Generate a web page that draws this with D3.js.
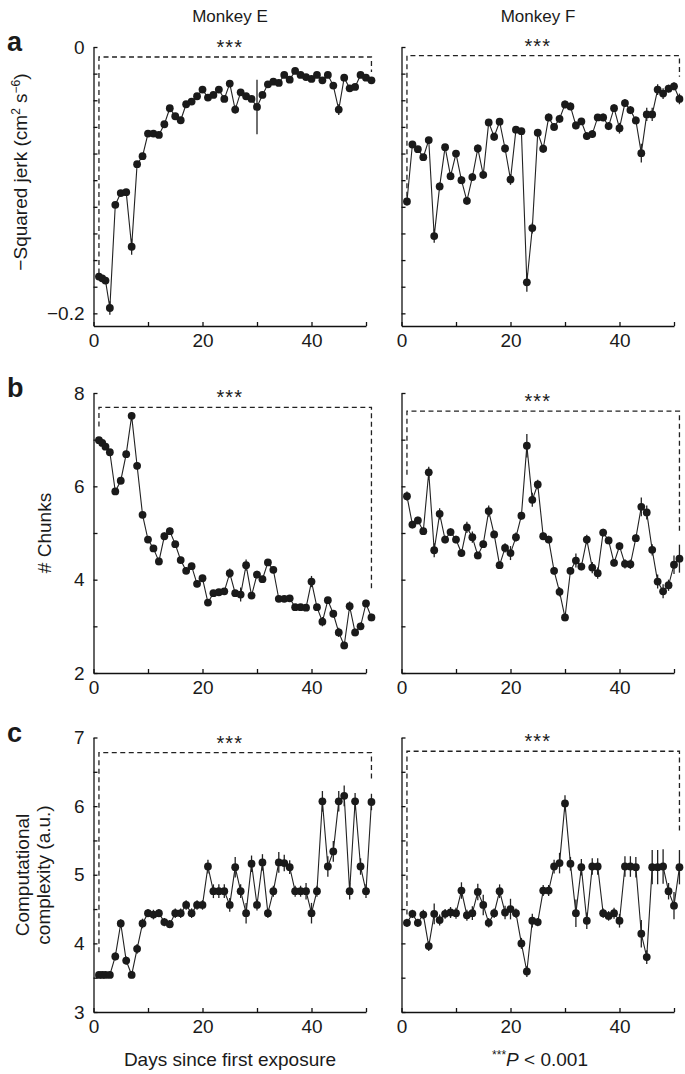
<!DOCTYPE html>
<html><head><meta charset="utf-8">
<script src="https://cdn.jsdelivr.net/npm/d3@7"></script>
<style>
body{margin:0;background:#fff}
svg{display:block}
text{font-family:"Liberation Sans",Arial,Helvetica,sans-serif;fill:#1a1a1a}
</style>
</head><body>
<svg id="chart" width="685" height="1074"></svg>
<script>
// ---------- DATA ----------
const daysE = [1,1.6,2.2,3,4,5,6,7,8,9,10,11,12,13,14,15,16,17,18,19,20,21,22,23,24,25,26,27,28,29,30,31,32,33,34,35,36,37,38,39,40,41,42,43,44,45,46,47,48,49,50,51];
const daysF = [1,2,3,4,5,6,7,8,9,10,11,12,13,14,15,16,17,18,19,20,21,22,23,24,25,26,27,28,29,30,31,32,33,34,35,36,37,38,39,40,41,42,43,44,45,46,47,48,49,50,51];

const jerkE = [-0.1724,-0.1737,-0.1754,-0.196,-0.1185,-0.1097,-0.109,-0.150,-0.088,-0.082,-0.065,-0.065,-0.066,-0.058,-0.046,-0.052,-0.055,-0.043,-0.041,-0.037,-0.032,-0.038,-0.036,-0.032,-0.039,-0.0275,-0.047,-0.034,-0.037,-0.039,-0.045,-0.036,-0.028,-0.026,-0.027,-0.021,-0.0245,-0.018,-0.021,-0.0226,-0.024,-0.021,-0.025,-0.021,-0.029,-0.047,-0.023,-0.031,-0.030,-0.021,-0.023,-0.025];
const jerkErrE = [0.002,0.002,0.002,0.005,0.002,0.002,0.002,0.006,0.002,0.002,0.001,0.001,0.002,0.002,0.002,0.002,0.002,0.002,0.001,0.001,0.001,0.001,0.001,0.002,0.002,0.002,0.003,0.002,0.002,0.002,0.0205,0.002,0.001,0.001,0.001,0.001,0.001,0.001,0.001,0.001,0.001,0.001,0.001,0.001,0.002,0.004,0.002,0.002,0.002,0.001,0.001,0.002];
const jerkF = [-0.116,-0.0732,-0.0767,-0.0827,-0.0699,-0.142,-0.1047,-0.0752,-0.097,-0.080,-0.100,-0.1155,-0.0977,-0.0762,-0.096,-0.0566,-0.0674,-0.0561,-0.0762,-0.0995,-0.0621,-0.0632,-0.1767,-0.136,-0.0644,-0.0764,-0.0529,-0.060,-0.0539,-0.0431,-0.0446,-0.0589,-0.0559,-0.0669,-0.0654,-0.0529,-0.0529,-0.0594,-0.0459,-0.061,-0.0421,-0.0474,-0.0551,-0.0797,-0.0506,-0.0506,-0.032,-0.035,-0.0313,-0.0295,-0.039];
const jerkErrF = [0.003,0.002,0.002,0.002,0.002,0.005,0.003,0.002,0.003,0.002,0.003,0.003,0.003,0.003,0.003,0.002,0.003,0.002,0.003,0.004,0.002,0.002,0.007,0.004,0.002,0.003,0.003,0.003,0.003,0.003,0.003,0.003,0.002,0.003,0.003,0.002,0.003,0.003,0.003,0.004,0.003,0.003,0.003,0.007,0.005,0.005,0.004,0.004,0.003,0.003,0.004];

const chunksE = [6.99,6.93,6.85,6.73,5.89,6.12,6.69,7.51,6.44,5.39,4.86,4.67,4.39,4.93,5.04,4.76,4.42,4.19,4.29,3.91,4.03,3.51,3.71,3.73,3.75,4.14,3.71,3.68,4.31,3.66,4.11,4.01,4.37,4.21,3.59,3.59,3.60,3.41,3.41,3.40,3.96,3.41,3.10,3.56,3.27,2.87,2.59,3.43,2.87,3.00,3.49,3.19];
const chunksErrE = [0.06,0.06,0.06,0.06,0.07,0.07,0.07,0.08,0.08,0.07,0.07,0.07,0.08,0.08,0.08,0.07,0.07,0.07,0.07,0.07,0.07,0.06,0.06,0.06,0.06,0.1,0.07,0.15,0.12,0.07,0.08,0.07,0.07,0.07,0.06,0.06,0.06,0.06,0.06,0.06,0.12,0.07,0.1,0.07,0.08,0.1,0.08,0.1,0.08,0.08,0.08,0.08];
const chunksF = [5.79,5.18,5.27,5.04,6.30,4.63,5.41,4.86,5.02,4.86,4.57,5.12,4.91,4.52,4.76,5.47,4.97,4.31,4.68,4.57,4.91,5.37,6.87,5.71,6.04,4.93,4.86,4.19,3.74,3.19,4.19,4.41,4.28,4.86,4.26,4.14,5.01,4.84,4.36,4.72,4.34,4.33,4.89,5.56,5.44,4.64,3.96,3.75,3.88,4.32,4.45];
const chunksErrF = [0.1,0.08,0.08,0.08,0.12,0.15,0.12,0.08,0.08,0.08,0.08,0.12,0.12,0.08,0.08,0.12,0.08,0.08,0.1,0.15,0.1,0.08,0.25,0.15,0.1,0.08,0.08,0.08,0.1,0.08,0.08,0.15,0.08,0.1,0.12,0.12,0.08,0.08,0.08,0.08,0.1,0.1,0.08,0.2,0.15,0.12,0.15,0.15,0.12,0.2,0.3];

const complexE = [3.54,3.54,3.54,3.54,3.81,4.29,3.75,3.54,3.92,4.29,4.44,4.42,4.44,4.31,4.28,4.44,4.44,4.56,4.44,4.56,4.56,5.12,4.76,4.76,4.76,4.56,5.11,4.76,4.44,5.16,4.56,5.18,4.44,4.76,5.18,5.17,5.11,4.76,4.76,4.76,4.44,4.76,6.07,5.12,5.34,6.07,6.15,4.76,6.07,5.12,4.76,6.06];
const complexErrE = [0.04,0.04,0.04,0.04,0.06,0.06,0.06,0.05,0.07,0.07,0.06,0.07,0.06,0.06,0.06,0.07,0.07,0.07,0.07,0.07,0.07,0.1,0.1,0.1,0.1,0.1,0.15,0.1,0.15,0.12,0.08,0.12,0.07,0.08,0.15,0.12,0.1,0.08,0.08,0.12,0.15,0.08,0.15,0.15,0.15,0.15,0.15,0.12,0.12,0.12,0.1,0.12];
const complexF = [4.30,4.43,4.30,4.42,3.96,4.43,4.34,4.43,4.45,4.44,4.77,4.41,4.44,4.75,4.56,4.30,4.44,4.76,4.45,4.50,4.44,4.00,3.59,4.33,4.31,4.77,4.77,5.12,5.17,6.04,5.16,4.44,5.11,4.33,5.12,5.12,4.44,4.40,4.44,4.33,5.12,5.12,5.11,4.14,3.80,5.11,5.11,5.12,4.76,4.55,5.11];
const complexErrF = [0.06,0.06,0.06,0.07,0.07,0.15,0.08,0.07,0.08,0.08,0.12,0.08,0.1,0.12,0.15,0.07,0.07,0.1,0.1,0.15,0.07,0.08,0.08,0.1,0.06,0.08,0.08,0.1,0.15,0.12,0.1,0.2,0.12,0.12,0.12,0.12,0.07,0.07,0.08,0.1,0.15,0.15,0.15,0.2,0.1,0.25,0.25,0.25,0.12,0.2,0.25];

// tick values and labels
const dayTicks = [0,10,20,30,40,50];
const dayLabels = [0,20,40];
const jerkTicks = [-0.2,-0.18,-0.16,-0.14,-0.12,-0.1,-0.08,-0.06,-0.04,-0.02,0];
const jerkLabels = [0,-0.2];
const chunkTicks = [2,3,4,5,6,7,8];
const chunkLabels = [2,4,6,8];
const complexTicks = [3,3.5,4,4.5,5,5.5,6,6.5,7];
const complexLabels = [3,4,5,6,7];

// significance brackets: [top value, left end value, right end value]
const bracketJerkE = [-0.0075,-0.170,-0.0188];
const bracketJerkF = [-0.0065,-0.1124,-0.0223];
const bracketChunksE = [7.69,7.28,3.75];
const bracketChunksF = [7.61,6.25,5.04];
const bracketComplexE = [6.78,3.87,6.38];
const bracketComplexF = [6.80,4.42,5.60];
const bracketDays = [1,51];

// ---------- LAYOUT ----------
const svg = d3.select("#chart");
const cols = [{x0:93.5, x1:366}, {x0:401.5, x1:674}];
const rows = [
  {letter:"a", top:47, bottom:326, domain:[-0.2095,0], ticks:jerkTicks, labels:jerkLabels,
   E:[jerkE,jerkErrE,bracketJerkE], F:[jerkF,jerkErrF,bracketJerkF]},
  {letter:"b", top:393, bottom:673, domain:[2,8], ticks:chunkTicks, labels:chunkLabels,
   E:[chunksE,chunksErrE,bracketChunksE], F:[chunksF,chunksErrF,bracketChunksF]},
  {letter:"c", top:737.5, bottom:1012, domain:[3,7], ticks:complexTicks, labels:complexLabels,
   E:[complexE,complexErrE,bracketComplexE], F:[complexF,complexErrF,bracketComplexF]}
];
const fmt = d => d < 0 ? "\u2212" + Math.abs(d) : String(d);
const ink = "#1a1a1a";

rows.forEach(row => {
  const y = d3.scaleLinear().domain(row.domain).range([row.bottom, row.top]);
  cols.forEach((col, ci) => {
    const x = d3.scaleLinear().domain([0,50]).range([col.x0, col.x1]);
    const days = ci === 0 ? daysE : daysF;
    const [vals, errs, br] = ci === 0 ? row.E : row.F;
    const g = svg.append("g");

    // axes
    const ya = d3.axisLeft(y).tickValues(row.ticks).tickSize(-4).tickSizeOuter(0).tickPadding(9)
      .tickFormat(d => (ci === 0 && row.labels.includes(d)) ? fmt(d) : "");
    const yg = g.append("g").attr("transform", `translate(${col.x0},0)`).call(ya);
    const xa = d3.axisBottom(x).tickValues(dayTicks).tickSize(-4).tickSizeOuter(0).tickPadding(8)
      .tickFormat(d => dayLabels.includes(d) ? d : "");
    const xg = g.append("g").attr("transform", `translate(0,${row.bottom})`).call(xa);
    [yg, xg].forEach(a => {
      a.selectAll("path,line").attr("stroke", "#111").attr("stroke-width", 1.3);
      a.selectAll("text").attr("font-size", 19).attr("fill", ink)
        .attr("font-family", '"Liberation Sans", Arial, sans-serif');
    });

    // significance bracket
    const bx0 = x(bracketDays[0]), bx1 = x(bracketDays[1]);
    g.append("path")
      .attr("d", `M${bx0},${y(br[1])}V${y(br[0])}H${bx1}V${y(br[2])}`)
      .attr("fill", "none").attr("stroke", "#222").attr("stroke-width", 1.3)
      .attr("stroke-dasharray", "5,3.5");
    g.append("text").attr("x", (col.x0 + col.x1) / 2).attr("y", y(br[0]) - 3)
      .attr("text-anchor", "middle").attr("font-size", 20).attr("letter-spacing", 1)
      .text("***");

    // error bars
    g.selectAll(".err").data(vals).join("line")
      .attr("x1", (d,i) => x(days[i])).attr("x2", (d,i) => x(days[i]))
      .attr("y1", (d,i) => y(d - errs[i])).attr("y2", (d,i) => y(d + errs[i]))
      .attr("stroke", "#222").attr("stroke-width", 1.3);

    // line
    g.append("path").datum(vals)
      .attr("d", d3.line().x((d,i) => x(days[i])).y(d => y(d)))
      .attr("fill", "none").attr("stroke", "#222").attr("stroke-width", 1.1);

    // dots
    g.selectAll(".dot").data(vals).join("circle")
      .attr("cx", (d,i) => x(days[i])).attr("cy", d => y(d)).attr("r", 3.9)
      .attr("fill", ink);
  });

  // panel letter
  svg.append("text").attr("x", 7).attr("y", row.top + 4).attr("font-size", 27)
    .attr("font-weight", "bold").text(row.letter);
});

// column titles
svg.append("text").attr("x", 230).attr("y", 22).attr("text-anchor", "middle").attr("font-size", 17).text("Monkey E");
svg.append("text").attr("x", 538).attr("y", 22).attr("text-anchor", "middle").attr("font-size", 17).text("Monkey F");

// y-axis titles
const ta = svg.append("text").attr("transform", "translate(27,172) rotate(-90)")
  .attr("text-anchor", "middle").attr("font-size", 19);
ta.append("tspan").text("\u2212Squared jerk (cm");
ta.append("tspan").attr("font-size", 12).attr("dy", -7).text("2");
ta.append("tspan").attr("dy", 7).text(" s");
ta.append("tspan").attr("font-size", 12).attr("dy", -7).text("\u22126");
ta.append("tspan").attr("dy", 7).text(")");

svg.append("text").attr("transform", "translate(51,533) rotate(-90)")
  .attr("text-anchor", "middle").attr("font-size", 19).text("# Chunks");
svg.append("text").attr("transform", "translate(29,875) rotate(-90)")
  .attr("text-anchor", "middle").attr("font-size", 19).text("Computational");
svg.append("text").attr("transform", "translate(50,875) rotate(-90)")
  .attr("text-anchor", "middle").attr("font-size", 19).text("complexity (a.u.)");

// bottom labels
svg.append("text").attr("x", 230).attr("y", 1066).attr("text-anchor", "middle").attr("font-size", 19)
  .text("Days since first exposure");
const p = svg.append("text").attr("x", 540).attr("y", 1066).attr("text-anchor", "middle").attr("font-size", 19);
p.append("tspan").attr("font-size", 12).attr("dy", -7).text("***");
p.append("tspan").attr("dy", 7).attr("font-style", "italic").text("P");
p.append("tspan").text(" < 0.001");
</script>
</body></html>
